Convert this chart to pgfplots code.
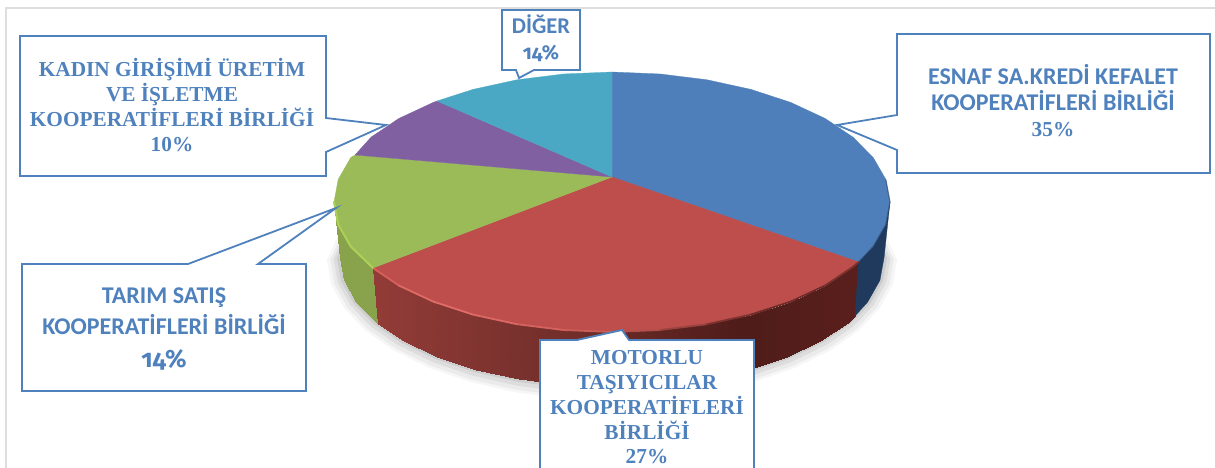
\documentclass[border=0pt]{standalone}
\usepackage{fontspec}
\setmainfont{Liberation Serif}
\newfontfamily\calfont{Carlito}
\newfontfamily\numfont[Numbers=OldStyle]{Fira Sans}
\usepackage{pgfplots}
\usepackage{pgfplotstable}
\pgfplotsset{compat=1.18}
\definecolor{lab}{HTML}{4F81BD}
\definecolor{cblue}{HTML}{4E7FBB}
\definecolor{cred}{HTML}{BD4E4B}
\definecolor{cgreen}{HTML}{9BBB59}
\definecolor{cpurple}{HTML}{8060A0}
\definecolor{cteal}{HTML}{4AA8C4}
\definecolor{grim}{HTML}{ACD058}
\definecolor{bs}{HTML}{1F3A5C}
\definecolor{r1}{HTML}{D65F5B}
\definecolor{r2}{HTML}{DE6A66}
\definecolor{r3}{HTML}{E06C68}
\definecolor{r4}{HTML}{DC6864}
\definecolor{r5}{HTML}{D4625E}
\definecolor{r6}{HTML}{CC5C58}
\definecolor{r7}{HTML}{B44E4A}
\definecolor{r8}{HTML}{9A423E}
\definecolor{r9}{HTML}{7E3330}
\definecolor{r10}{HTML}{6E2B28}
\definecolor{r11}{HTML}{6E2B28}
\definecolor{r12}{HTML}{7A3230}
\pgfplotstableread{
x y
845 175
884 258
879.9 280.4
867.6 302.1
847.6 322.5
820.4 340.9
786.8 356.8
748 369.7
705 379.2
659.2 385
612 387
564.8 385
519 379.2
476 369.7
437.2 356.8
403.6 340.9
376.4 322.5
356.4 302.1
344.1 280.4
340 258
379 175
}\bottomedge
\pgfplotstableread{
x y
373 268
399 285.6
403.6 340.9
378 324
399 285.6
433.3 301.6
437.2 356.8
403.6 340.9
433.3 301.6
473 314.6
476 369.7
437.2 356.8
473 314.6
516.9 324.2
519 379.2
476 369.7
516.9 324.2
563.7 330
564.8 385
519 379.2
563.7 330
612 332
612 387
564.8 385
612 332
660.3 330
659.2 385
612 387
660.3 330
707.1 324.2
705 379.2
659.2 385
707.1 324.2
751 314.6
748 369.7
705 379.2
751 314.6
790.7 301.6
786.8 356.8
748 369.7
790.7 301.6
825 285.6
820.4 340.9
786.8 356.8
825 285.6
852.8 267
847.6 322.5
820.4 340.9
852.8 267
858.6 262
855 316
847.6 322.5
}\redwall
\pgfplotstableread{
x y
334 202
338.2 224.6
344.1 280.4
340 258
338.2 224.6
350.8 246.5
356.4 302.1
344.1 280.4
350.8 246.5
373 268
378 324
356.4 302.1
}\greenwall
\newcommand\rim[2]{\addplot[draw=#1,line width=1.8pt,line cap=round] coordinates {#2};}
\newcommand\callout[1]{\addplot[fill=white,draw=lab,line width=1.8pt,line join=miter] coordinates {#1} -- cycle;}
\newcommand\tline[4]{\node[anchor=base,text=lab,font=\bfseries#3,inner sep=0pt] at (axis cs:#1,#2) {#4};}
\newcommand\TS{\fontsize{21.3}{21.3}\selectfont}
\newcommand\CS{\calfont\fontsize{24}{24}\selectfont}
\begin{document}
\begin{tikzpicture}
\useasboundingbox (0,0) rectangle (1215pt,468pt);
\begin{axis}[
  at={(0,0)},anchor=south west,
  scale only axis,width=1215pt,height=468pt,
  xmin=0,xmax=1215,ymin=0,ymax=468,y dir=reverse,
  axis lines=none,ticks=none,clip=true,
]
% frame
\addplot[draw=black!13,line width=1.6pt] coordinates {(6,470) (6,8) (1217,8)};
% soft shadow
\addplot[fill=black,draw=none,opacity=.035] table[x expr={612+(\thisrowno{0}-612)*1.048},y expr={258+(\thisrowno{1}-258)*1.09+2}] {\bottomedge};
\addplot[fill=black,draw=none,opacity=.045] table[x expr={612+(\thisrowno{0}-612)*1.036},y expr={258+(\thisrowno{1}-258)*1.07+2}] {\bottomedge};
\addplot[fill=black,draw=none,opacity=.06] table[x expr={612+(\thisrowno{0}-612)*1.024},y expr={258+(\thisrowno{1}-258)*1.045+1}] {\bottomedge};
\addplot[fill=black,draw=none,opacity=.07] table[x expr={612+(\thisrowno{0}-612)*1.012},y expr={258+(\thisrowno{1}-258)*1.022}] {\bottomedge};
% side walls
\addplot[patch,patch type=rectangle,shader=interp,point meta=x,point meta min=334,point meta max=378,
  colormap={gw}{rgb255(0cm)=(136,163,76); rgb255(44cm)=(130,158,72)}] table {\greenwall};
\addplot[patch,patch type=rectangle,shader=interp,point meta=x,point meta min=373,point meta max=859,
  colormap={rw}{rgb255(0cm)=(154,62,58); rgb255(167cm)=(122,50,46); rgb255(239cm)=(110,44,40); rgb255(377cm)=(78,28,26); rgb255(486cm)=(90,31,28)}] table {\redwall};
\addplot[fill=bs,draw=bs,line width=.3pt] coordinates {(858.6,262) (873.2,246.5) (885.8,224.6) (890,202) (884,258) (879.9,280.4) (867.6,302.1) (855,316)} -- cycle;
% top face
\addplot[fill=cblue,draw=cblue,line width=.3pt] coordinates {(612,177) (612,72) (660.3,74) (707.1,79.8) (751,89.4) (790.7,102.4) (825,118.4) (852.8,137) (873.2,157.5) (885.8,179.4) (890,202) (885.8,224.6) (873.2,246.5) (858.6,262)} -- cycle;
\addplot[fill=cred,draw=cred,line width=.3pt] coordinates {(612,177) (858.6,262) (852.8,267) (825,285.6) (790.7,301.6) (751,314.6) (707.1,324.2) (660.3,330) (612,332) (563.7,330) (516.9,324.2) (473,314.6) (433.3,301.6) (399,285.6) (373,268)} -- cycle;
\addplot[fill=cgreen,draw=cgreen,line width=.3pt] coordinates {(612,177) (373,268) (350.8,246.5) (338.2,224.6) (334,202) (338.2,179.4) (350.8,157.5) (355,155)} -- cycle;
\addplot[fill=cpurple,draw=cpurple,line width=.3pt] coordinates {(612,177) (355,155) (371.2,137) (399,118.4) (433.3,102.4) (437,101)} -- cycle;
\addplot[fill=cteal,draw=cteal,line width=.3pt] coordinates {(612,177) (437,101) (473,89.4) (516.9,79.8) (563.7,74) (612,72)} -- cycle;
% bevel on the rim
\rim{r1}{(373,268) (399,285.6)}
\rim{r2}{(399,285.6) (433.3,301.6)}
\rim{r3}{(433.3,301.6) (473,314.6)}
\rim{r4}{(473,314.6) (516.9,324.2)}
\rim{r5}{(516.9,324.2) (563.7,330)}
\rim{r6}{(563.7,330) (612,332)}
\rim{r7}{(612,332) (660.3,330)}
\rim{r8}{(660.3,330) (707.1,324.2)}
\rim{r9}{(707.1,324.2) (751,314.6)}
\rim{r10}{(751,314.6) (790.7,301.6)}
\rim{r11}{(790.7,301.6) (825,285.6)}
\rim{r12}{(825,285.6) (852.8,267) (858.6,262)}
\addplot[draw=grim,line width=2pt,line cap=round] coordinates {(334,202) (338.2,224.6) (350.8,246.5) (373,268)};
\addplot[draw=bs,opacity=.5,line width=1.2pt] coordinates {(885.8,179.4) (890,202) (885.8,224.6) (873.2,246.5) (858.6,262)};
% callouts
\callout{(20,36) (326,36) (326,118) (386,125) (326,152) (326,176) (20,176)}
\callout{(22,264) (188,264) (336,208) (258,264) (306,264) (306,391) (22,391)}
\callout{(540,340) (577,340) (622,330) (629,340) (754,340) (754,476) (540,476)}
\callout{(897,34) (1210,34) (1210,173) (897,173) (897,150) (837,125) (897,115)}
\callout{(502,10) (580,10) (580,70) (534,70) (519,78) (516,70) (502,70)}
% texts
\tline{172}{77}{\TS}{KADIN GİRİŞİMİ ÜRETİM}
\tline{172}{102}{\TS}{VE İŞLETME}
\tline{172}{127}{\TS}{KOOPERATİFLERİ BİRLİĞİ}
\tline{172}{151}{\TS}{10\%}
\tline{164}{303}{\CS}{TARIM SATIŞ}
\tline{164}{334}{\CS}{KOOPERATİFLERİ BİRLİĞİ}
\tline{164}{367}{\numfont\fontsize{25}{25}\selectfont}{14\%}
\tline{647}{364}{\TS}{MOTORLU}
\tline{647}{389}{\TS}{TAŞIYICILAR}
\tline{647}{414}{\TS}{KOOPERATİFLERİ}
\tline{647}{439}{\TS}{BİRLİĞİ}
\tline{647}{463}{\TS}{27\%}
\tline{1053}{85}{\CS}{ESNAF SA.KREDİ KEFALET}
\tline{1053}{111}{\CS}{KOOPERATİFLERİ BİRLİĞİ}
\tline{1053}{137}{\TS}{35\%}
\tline{541}{34}{\calfont\fontsize{22.5}{22.5}\selectfont}{DİĞER}
\tline{541}{60}{\numfont\fontsize{20}{20}\selectfont}{14\%}
\end{axis}
\end{tikzpicture}
\end{document}
